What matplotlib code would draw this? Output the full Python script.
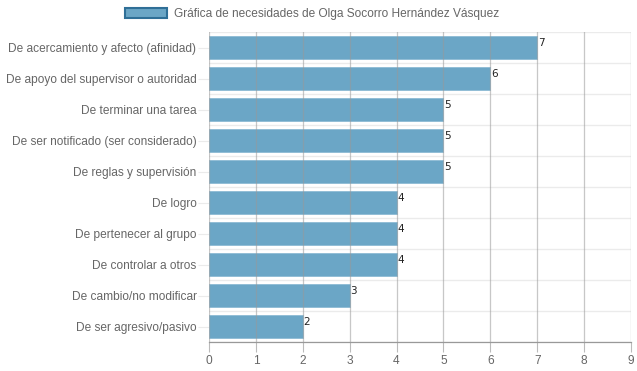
import numpy as np
import matplotlib.pyplot as plt
from matplotlib.patches import Patch

categorias = [
    "De acercamiento y afecto (afinidad)",
    "De apoyo del supervisor o autoridad",
    "De terminar una tarea",
    "De ser notificado (ser considerado)",
    "De reglas y supervisión",
    "De logro",
    "De pertenecer al grupo",
    "De controlar a otros",
    "De cambio/no modificar",
    "De ser agresivo/pasivo",
]
valores = [7, 6, 5, 5, 5, 4, 4, 4, 3, 2]
titulo = "Gráfica de necesidades de Olga Socorro Hernández Vásquez"

plt.rcParams['font.family'] = ['Liberation Sans', 'DejaVu Sans']

fig = plt.figure(figsize=(6.37, 3.71), dpi=100)
ax = fig.add_axes([209 / 637, 1 - 342 / 371, 422 / 637, 310 / 371])

y = np.arange(len(categorias))
bars = ax.barh(y, valores, height=0.76, color='#6ba6c6', edgecolor='#8dbbd4',
               linewidth=0.6, zorder=2)

for b, v in zip(bars, valores):
    ax.text(b.get_width() + 0.02, b.get_y() + 0.08, str(v), ha='left', va='top',
            fontsize=7.5, color='#222222', family='DejaVu Sans', zorder=4)

ax.set_xlim(0, 9)
ax.set_ylim(len(categorias) - 0.5, -0.5)
ax.set_xticks(range(10))
ax.set_yticks(y)
ax.set_yticklabels(categorias)

# vertical grid over bars (Chart.js look), horizontal grid between categories
for xv in range(10):
    ax.axvline(xv, color='#999999', alpha=0.55, lw=0.9, zorder=3)
for yb in np.arange(-0.5, len(categorias), 1.0):
    ax.axhline(yb, color='#ebebeb', lw=1.0, zorder=1)

for s in ax.spines.values():
    s.set_visible(False)
ax.spines['bottom'].set_visible(True)
ax.spines['bottom'].set_color('#999999')
ax.spines['bottom'].set_linewidth(0.9)

ax.tick_params(axis='x', length=7, color='#bbbbbb', labelcolor='#666666',
               labelsize=8.6, pad=2)
ax.tick_params(axis='y', length=8, color='#ebebeb', labelcolor='#666666',
               labelsize=8.6, pad=1)

handle = Patch(facecolor='#6ba6c6', edgecolor='#2f6f97', linewidth=1.5)
fig.legend([handle], [titulo], loc='center', bbox_to_anchor=(312 / 637, 1 - 14 / 371),
           frameon=False, fontsize=8.6, handlelength=3.5, handleheight=1.0,
           handletextpad=0.6, labelcolor='#666666')

fig.savefig("out.png", dpi=100)
